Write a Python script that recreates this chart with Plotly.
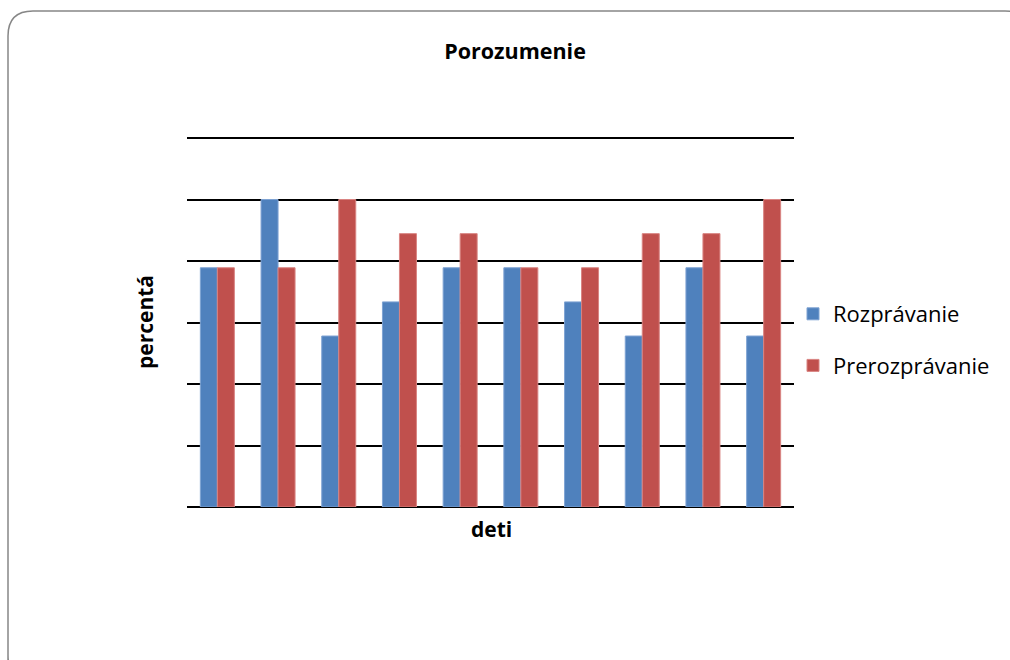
import plotly.graph_objects as go

# Data (percent of 9 items answered correctly)
deti = [str(i) for i in range(1, 11)]
rozpravanie = [77.8, 100, 55.6, 66.7, 77.8, 77.8, 66.7, 55.6, 77.8, 55.6]
prerozpravanie = [77.8, 77.8, 100, 88.9, 88.9, 77.8, 77.8, 88.9, 88.9, 100]
series_names = ["Rozprávanie", "Prerozprávanie"]
y_ticks = [0, 20, 40, 60, 80, 100, 120]

FONT = "'Open Sans', 'Noto Sans', Arial, sans-serif"
BLUE = "#4F81BD"
RED = "#C0504D"

fig = go.Figure()
fig.add_trace(go.Bar(x=deti, y=rozpravanie, name=series_names[0],
                     marker=dict(color=BLUE, line=dict(color="#7FA3D3", width=1)),
                     legendgroup="a"))
fig.add_trace(go.Bar(x=deti, y=prerozpravanie, name=series_names[1],
                     marker=dict(color=RED, line=dict(color="#D98482", width=1)),
                     legendgroup="b"))

# plot area in pixels
L, R, T, B = 187, 794, 138, 507
W, H = R - L, B - T
def px(x): return (x - L) / W
def py(y): return (B - y) / H

# rounded border path (paper coords)
x0, y0, x1, y1 = px(8), py(11), px(1030), py(680)
rx, ry = 25 / W, 25 / H
path = (f"M {x0},{y1} L {x0},{y0 - ry} Q {x0},{y0} {x0 + rx},{y0} "
        f"L {x1 - rx},{y0} Q {x1},{y0} {x1},{y0 - ry} L {x1},{y1 + ry} "
        f"Q {x1},{y1} {x1 - rx},{y1} L {x0 + rx},{y1} Q {x0},{y1} {x0},{y1 + ry} Z")

fig.update_layout(
    width=1010, height=660,
    margin=dict(l=L, r=1010 - R, t=T, b=660 - B),
    paper_bgcolor="white", plot_bgcolor="white",
    barmode="group", bargap=0.44, bargroupgap=0,
    font=dict(family=FONT, color="black"),
    title=dict(text="<b>Porozumenie</b>", x=515 / 1010, xanchor="center",
               y=1 - 51 / 660, yanchor="middle", font=dict(size=21.5, family=FONT)),
    xaxis=dict(showticklabels=False, showgrid=False, ticks="", showline=False,
               zeroline=False),
    yaxis=dict(range=[0, 120], tickvals=y_ticks, showticklabels=False, ticks="",
               showgrid=True, gridcolor="black", gridwidth=2, zeroline=True,
               zerolinecolor="black", zerolinewidth=2, showline=False),
    legend=dict(x=px(793), xanchor="left", y=py(340), yanchor="middle",
                font=dict(size=22, family=FONT), traceorder="grouped",
                tracegroupgap=20, bgcolor="rgba(0,0,0,0)", itemwidth=30),
    shapes=[dict(type="path", xref="paper", yref="paper", path=path,
                 line=dict(color="#878787", width=1.5), layer="below"),
            # top gridline (range end) drawn unclipped in paper coords
            dict(type="line", xref="paper", yref="paper", x0=0, x1=1,
                 y0=1, y1=1, line=dict(color="black", width=2),
                 layer="below")],
    annotations=[
        dict(text="<b>percentá</b>", xref="paper", yref="paper", x=px(145), y=py(322),
             textangle=-90, showarrow=False, font=dict(size=21, family=FONT),
             xanchor="center", yanchor="middle"),
        dict(text="<b>deti</b>", xref="paper", yref="paper", x=px(491), y=py(529),
             showarrow=False, font=dict(size=21, family=FONT),
             xanchor="center", yanchor="middle"),
    ],
)

fig.write_html("out.html")
